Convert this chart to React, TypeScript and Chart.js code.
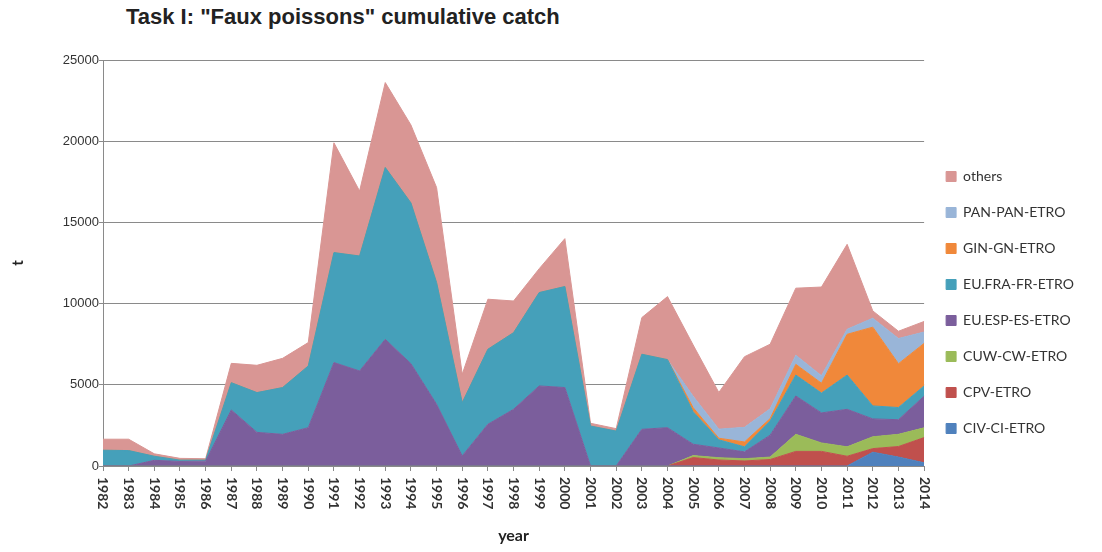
import React, { useEffect, useRef } from 'react';
import { Chart, registerables } from 'chart.js';

Chart.register(...registerables);

const years = [
  '1982', '1983', '1984', '1985', '1986', '1987', '1988', '1989', '1990', '1991', '1992',
  '1993', '1994', '1995', '1996', '1997', '1998', '1999', '2000', '2001', '2002', '2003',
  '2004', '2005', '2006', '2007', '2008', '2009', '2010', '2011', '2012', '2013', '2014',
];

const yTicks = [0, 5000, 10000, 15000, 20000, 25000];

// stacked from bottom to top
const civ = [0, 0, 0, 0, 0, 0, 0, 0, 0, 0, 0, 0, 0, 0, 0, 0, 0, 0, 0, 0, 0, 0, 0, 0, 0, 0, 0, 0, 0, 0, 850, 550, 200];
const cpv = [0, 0, 0, 0, 0, 0, 0, 0, 0, 0, 0, 0, 0, 0, 0, 0, 0, 0, 0, 0, 0, 0, 0, 520, 370, 310, 400, 900, 900, 600, 220, 650, 1550];
const cuw = [0, 0, 0, 0, 0, 0, 0, 0, 0, 0, 0, 0, 0, 0, 0, 0, 0, 0, 0, 0, 0, 0, 0, 120, 140, 140, 150, 1050, 520, 580, 730, 750, 600];
const esp = [0, 0, 350, 280, 300, 3450, 2070, 1950, 2360, 6370, 5850, 7800, 6300, 3800, 620, 2570, 3490, 4930, 4830, 0, 0, 2260, 2360, 700, 600, 420, 1350, 2360, 1850, 2310, 1100, 900, 1950];
const fra = [970, 950, 250, 80, 60, 1680, 2450, 2880, 3800, 6770, 7080, 10580, 9900, 7500, 3280, 4620, 4720, 5750, 6220, 2460, 2150, 4620, 4190, 2000, 500, 310, 870, 1290, 1220, 2110, 800, 750, 630];
const gin = [0, 0, 0, 0, 0, 0, 0, 0, 0, 0, 0, 0, 0, 0, 0, 0, 0, 0, 0, 0, 0, 0, 0, 250, 100, 300, 150, 660, 610, 2510, 4850, 2700, 2620];
const pan = [0, 0, 0, 0, 0, 0, 0, 0, 0, 0, 0, 0, 0, 0, 0, 0, 0, 0, 0, 0, 0, 0, 0, 700, 560, 900, 600, 560, 460, 310, 550, 1550, 700];
const others = [680, 700, 150, 110, 90, 1190, 1680, 1800, 1440, 6760, 4000, 5230, 4800, 5850, 1750, 3080, 1950, 1470, 2950, 170, 150, 2260, 3880, 3160, 2260, 4350, 3980, 4130, 5460, 5230, 450, 450, 650];

const seriesNames = ['CIV-CI-ETRO', 'CPV-ETRO', 'CUW-CW-ETRO', 'EU.ESP-ES-ETRO', 'EU.FRA-FR-ETRO', 'GIN-GN-ETRO', 'PAN-PAN-ETRO', 'others'];
const seriesValues = [civ, cpv, cuw, esp, fra, gin, pan, others];
const seriesColors = ['#4F81BD', '#C0504D', '#9BBB59', '#7B5E9C', '#45A0BA', '#F0883A', '#99B5D8', '#D99694'];

const xLabelPlugin = {
  id: 'xLabelsCW',
  afterDraw(chart: any) {
    const { ctx } = chart;
    const x = chart.scales.x;
    ctx.save();
    ctx.font = 'bold 14px Lato';
    ctx.fillStyle = '#333333';
    ctx.textAlign = 'left';
    ctx.textBaseline = 'middle';
    years.forEach((label, i) => {
      const px = x.getPixelForValue(i);
      ctx.save();
      ctx.translate(px, x.top + 11);
      ctx.rotate(Math.PI / 2);
      ctx.fillText(label, 0, 0);
      ctx.restore();
    });
    ctx.restore();
  },
};

export default function App() {
  const canvasRef = useRef<HTMLCanvasElement | null>(null);

  useEffect(() => {
    if (!canvasRef.current) return;
    const datasets = seriesNames.map((name, i) => ({
      label: name,
      data: seriesValues[i],
      backgroundColor: seriesColors[i],
      borderColor: seriesColors[i],
      borderWidth: 1,
      pointRadius: 0,
      pointHoverRadius: 0,
      tension: 0,
      fill: i === 0 ? 'origin' : '-1',
    }));

    const chart = new Chart(canvasRef.current, {
      type: 'line',
      data: { labels: years, datasets },
      plugins: [xLabelPlugin],
      options: {
        animation: false,
        responsive: false,
        devicePixelRatio: 1,
        layout: { padding: { left: 0, right: 18, top: 60, bottom: 7 } },
        plugins: {
          tooltip: { enabled: false },
          legend: {
            position: 'right',
            reverse: true,
            align: 'center',
            labels: {
              boxWidth: 10,
              boxHeight: 10,
              padding: 22,
              color: '#333333',
              font: { family: 'Lato', size: 14 },
            },
          },
        },
        scales: {
          x: {
            type: 'category',
            offset: false,
            grid: { display: true, drawOnChartArea: false, drawTicks: true, tickLength: 5, color: '#8a8a8a' },
            border: { display: true, color: '#8a8a8a' },
            ticks: { display: false },
            title: {
              display: true,
              text: 'year',
              color: '#222222',
              font: { family: 'Lato', size: 16, weight: 'bold' },
              padding: { top: 0, bottom: 0 },
            },
            afterFit: (s: any) => { s.height = 79; },
          },
          y: {
            stacked: true,
            min: 0,
            max: 25000,
            afterBuildTicks: (s: any) => { s.ticks = yTicks.map((v) => ({ value: v })); },
            ticks: {
              color: '#333333',
              padding: 0,
              font: { family: 'Liberation Sans', size: 13 },
              callback: (v: any) => String(v),
            },
            grid: { color: '#8a8a8a', tickLength: 4 },
            border: { display: true, color: '#8a8a8a' },
            title: {
              display: true,
              text: 't',
              color: '#222222',
              font: { family: 'Lato', size: 15, weight: 'bold' },
              padding: { top: 9, bottom: 0 },
            },
            afterFit: (s: any) => { s.width = 103; },
          },
        },
      },
    } as any);
    return () => chart.destroy();
  }, []);

  return (
    <div style={{ position: 'absolute', left: 0, top: 0, width: 1102, height: 552, background: '#ffffff' }}>
      <div
        style={{
          position: 'absolute',
          left: 126,
          top: 6,
          fontFamily: '"Liberation Sans", Arial, sans-serif',
          fontWeight: 'bold',
          fontSize: 22,
          lineHeight: '22px',
          color: '#222222',
          whiteSpace: 'nowrap',
        }}
      >
        Task I: "Faux poissons" cumulative catch
      </div>
      <canvas ref={canvasRef} width={1102} height={552} style={{ position: 'absolute', left: 0, top: 0 }} />
    </div>
  );
}
